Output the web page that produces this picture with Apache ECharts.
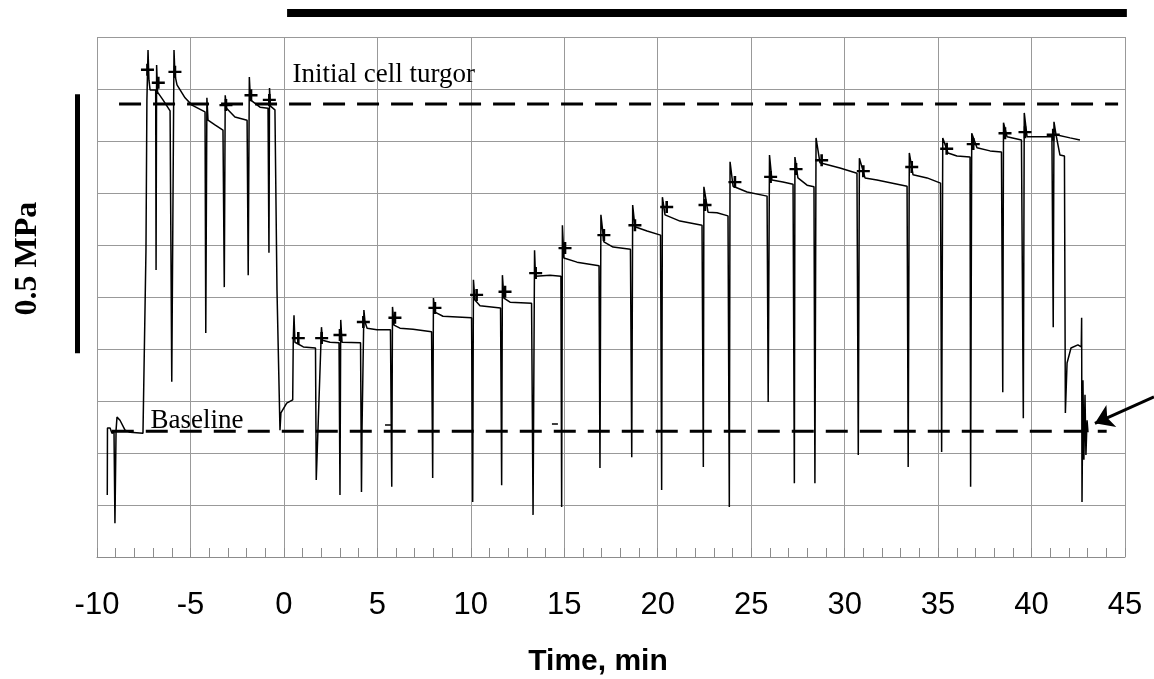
<!DOCTYPE html>
<html>
<head>
<meta charset="utf-8">
<script src="https://cdn.jsdelivr.net/npm/echarts@6/dist/echarts.min.js"></script>
<style>
html,body{margin:0;padding:0;background:#fff;}
#chart{width:1154px;height:679px;}
</style>
</head>
<body>
<div id="chart"></div>
<script>
// ---- tick labels ----
const xTickLabels = ['-10','-5','0','5','10','15','20','25','30','35','40','45'];

// ---- pressure trace (time in min, pressure in MPa relative units); null = gap ----
const traceTime = [
 -9.45,-9.44,-9.30,-9.20,-9.09,-9.04,-8.98,-8.93,-8.77,-8.50,-8.23,-7.54,-7.49,-7.38,-7.33,-7.27,-7.22,-7.16,
 -6.86,-6.84,-6.81,-6.76,-6.47,-6.09,-6.01,-6.00,-5.88,-5.83,-5.72,-5.29,-4.92,-4.22,-4.18,-4.12,-4.06,-3.69,
 -3.26,-3.19,-3.14,-3.07,-2.62,-1.97,-1.91,-1.85,-1.79,-1.28,-0.85,-0.80,-0.77,-0.72,-0.48,-0.37,-0.21,-0.16,
 0.15,0.47,0.50,0.54,0.59,1.04,1.69,1.73,2.01,2.06,2.47,2.95,3.00,3.04,3.11,4.10,4.15,4.18,4.26,4.28,4.34,4.45,
 4.98,5.70,5.77,5.81,5.89,6.21,6.91,7.90,7.96,8.00,8.08,8.51,10.04,10.10,10.14,10.22,10.49,11.59,11.65,11.69,
 11.77,12.10,13.25,13.33,13.41,13.46,14.24,14.82,14.86,14.90,14.98,15.68,16.86,16.91,16.96,17.12,17.61,18.54,
 18.61,18.66,18.78,19.43,20.15,20.21,20.25,20.39,21.19,22.37,22.44,22.47,22.69,23.17,23.76,23.83,23.87,24.03,
 24.78,25.85,25.91,25.98,26.11,26.70,27.24,27.31,27.34,27.50,27.99,28.36,28.41,28.47,28.68,29.75,30.66,30.73,
 30.79,31.09,31.73,33.34,33.40,33.46,33.66,34.41,35.13,35.19,35.25,35.53,36.01,36.71,36.74,36.80,37.08,37.78,
 38.39,38.46,38.50,38.69,39.46,39.56,39.61,39.76,41.09,41.16,41.20,41.31,41.52,41.76,41.81,41.90,42.11,42.48,
 42.66,42.68,42.70,42.75,42.80,42.86,42.91,42.97,43.02,
 null, 41.31,42.06,42.59,
 null, 5.41,5.73,
 null, 14.34,14.66
];
const tracePressure = [
 0.119,0.248,0.248,0.238,0.240,0.065,0.244,0.269,0.263,0.244,0.240,0.238,0.238,0.590,0.879,0.975,0.917,0.898,
 0.898,0.552,0.946,0.894,0.879,0.858,0.858,0.337,0.975,0.927,0.908,0.883,0.869,0.856,0.431,0.883,0.840,0.831,
 0.821,0.519,0.888,0.863,0.846,0.840,0.542,0.923,0.879,0.865,0.863,0.585,0.902,0.867,0.860,0.513,0.244,0.277,
 0.296,0.302,0.417,0.465,0.413,0.404,0.402,0.148,0.442,0.417,0.413,0.412,0.119,0.456,0.413,0.412,0.125,0.248,0.248,0.475,0.452,0.440,
 0.437,0.437,0.135,0.481,0.446,0.440,0.438,0.433,0.152,0.498,0.471,0.463,0.460,0.106,0.533,0.494,0.483,0.479,0.138,0.542,
 0.498,0.490,0.488,0.081,0.590,0.540,0.542,0.540,0.096,0.638,0.575,0.567,0.560,0.171,0.658,0.606,0.596,0.592,
 0.192,0.677,0.635,0.627,0.619,0.129,0.692,0.658,0.646,0.638,0.173,0.712,0.663,0.662,0.656,0.096,0.760,0.713,
 0.702,0.694,0.298,0.773,0.725,0.721,0.717,0.142,0.769,0.729,0.715,0.712,0.142,0.806,0.758,0.748,0.738,0.196,
 0.767,0.729,0.725,0.713,0.173,0.777,0.735,0.729,0.719,0.202,0.806,0.777,0.771,0.769,0.135,0.815,0.787,0.781,
 0.779,0.317,0.835,0.808,0.802,0.267,0.854,0.808,0.808,0.442,0.837,0.812,0.773,0.771,0.277,0.373,0.402,0.408,
 0.404,0.460,0.106,0.340,0.187,0.312,0.196,0.263,0.240,
 null, 0.812,0.806,0.802,
 null, 0.254,0.254,
 null, 0.256,0.256
];

// ---- "+" peak markers ----
const markerTime = [-7.30,-6.72,-5.83,-3.10,-1.76,-0.78,0.77,2.02,3.00,4.25,5.94,8.08,10.31,11.83,13.47,15.04,
 17.12,18.78,20.48,22.53,24.13,26.04,27.40,28.77,31.00,33.59,35.46,36.88,38.58,39.65,41.16];
const markerPressure = [0.937,0.912,0.933,0.869,0.888,0.879,0.421,0.421,0.427,0.452,0.460,0.479,0.504,0.510,0.546,0.594,
 0.619,0.638,0.673,0.677,0.721,0.731,0.746,0.763,0.742,0.750,0.785,0.794,0.815,0.817,0.812];

// ---- dashed reference levels ----
const refNames = ['Initial cell turgor', 'Baseline'];
const refLevel = [0.871, 0.242];
const refStart = [-8.82, -9.21];
const refEnd = [44.63, 44.02];

// ---- scale bar (0.5 MPa), treatment bar, arrow ----
const scaleBarTime = -11.04;
const scaleBarRange = [0.392, 0.890];
const treatmentTime = [0.17, 45.1];
const treatmentLevel = 1.046;
const arrowFrom = [46.55, 0.308];
const arrowTo = [43.39, 0.257];

// ---- text annotations ----
const annoText = ['Initial cell turgor', 'Baseline', '0.5 MPa'];
const annoTime = [0.43, -7.16, -13.72];
const annoPressure = [0.928, 0.262, 0.574];

const traceData = traceTime.map((t, i) => (t === null ? ['-', '-'] : [t, tracePressure[i]]));
const markerData = markerTime.map((t, i) => [t, markerPressure[i]]);

const serif = '"Liberation Serif","Times New Roman",serif';
const sans = '"Liberation Sans",Arial,Helvetica,sans-serif';

const refSeries = refNames.map((n, i) => ({
  name: n, type: 'line', symbol: 'none', silent: true, z: 4,
  data: [[refStart[i], refLevel[i]], [refEnd[i], refLevel[i]]],
  lineStyle: { color: '#000', width: 3, type: [22, 12] }
}));

const annoData = annoText.map((s, i) => {
  const item = { value: [annoTime[i], annoPressure[i]] };
  if (i < 2) {
    item.label = { show: true, formatter: s, position: 'right', distance: 0,
      fontFamily: serif, fontSize: 27, color: '#000', opacity: 1 };
  } else {
    item.label = { show: true, formatter: s, position: 'inside', rotate: 90,
      fontFamily: serif, fontSize: 32, fontWeight: 'bold', color: '#000', opacity: 1 };
  }
  return item;
});

const chart = echarts.init(document.getElementById('chart'), null, { renderer: 'canvas' });
chart.setOption({
  animation: false,
  backgroundColor: '#fff',
  grid: { left: 97, right: 29, top: 37, bottom: 122, containLabel: false, outerBoundsMode: 'none' },
  xAxis: {
    type: 'value', min: -10, max: 45, interval: 5,
    axisLine: { show: true, onZero: false, lineStyle: { color: '#8c8c8c', width: 1 } },
    axisTick: { show: true, inside: true, length: 9, lineStyle: { color: '#8c8c8c' } },
    minorTick: { show: true, splitNumber: 5, length: 9, lineStyle: { color: '#8c8c8c' } },
    splitLine: { show: true, lineStyle: { color: '#999', width: 1 } },
    axisLabel: { fontSize: 31, color: '#000', fontFamily: sans, margin: 33,
      formatter: v => xTickLabels[Math.round((v + 10) / 5)] },
    name: 'Time, min', nameLocation: 'middle', nameGap: 90,
    nameTextStyle: { fontSize: 30, fontWeight: 'bold', fontFamily: sans, color: '#000', padding: [0, 26, 0, 0] }
  },
  yAxis: {
    type: 'value', min: 0, max: 1, interval: 0.1,
    axisLine: { show: false }, axisTick: { show: false }, axisLabel: { show: false },
    splitLine: { show: true, lineStyle: { color: '#999', width: 1 } }
  },
  series: [
    { name: 'trace', type: 'line', data: traceData, symbol: 'none', connectNulls: false, z: 3,
      lineStyle: { color: '#000', width: 1.5 } },
    ...refSeries,
    { name: 'peaks', type: 'scatter', data: markerData, z: 5,
      symbol: 'path://M5 0 H7.5 V5 H12.5 V7.5 H7.5 V12.5 H5 V7.5 H0 V5 H5 Z',
      symbolSize: [13, 12], itemStyle: { color: '#000', opacity: 1 } },
    { name: 'bars', type: 'lines', coordinateSystem: 'cartesian2d', clip: false, silent: true,
      symbol: 'none', z: 4,
      data: [
        { coords: [[scaleBarTime, scaleBarRange[0]], [scaleBarTime, scaleBarRange[1]]], lineStyle: { width: 5 } },
        { coords: [[treatmentTime[0], treatmentLevel], [treatmentTime[1], treatmentLevel]], lineStyle: { width: 8 } }
      ],
      lineStyle: { color: '#000', opacity: 1, curveness: 0, cap: 'butt' } },
    { name: 'arrow', type: 'lines', coordinateSystem: 'cartesian2d', clip: false, silent: true,
      symbol: ['none', 'arrow'], symbolSize: 18,
      data: [{ coords: [arrowFrom, arrowTo] }],
      lineStyle: { color: '#000', width: 3, opacity: 1, curveness: 0 } },
    { name: 'annotations', type: 'scatter', clip: false, silent: true, symbolSize: 1, z: 6,
      itemStyle: { color: 'rgba(0,0,0,0)', opacity: 1 }, data: annoData }
  ]
});
</script>
</body>
</html>
